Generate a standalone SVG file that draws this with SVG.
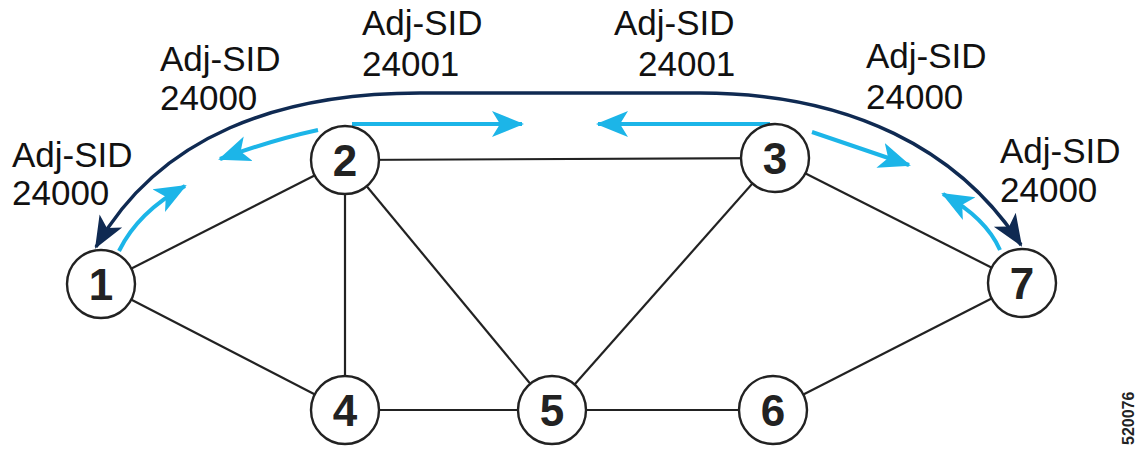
<svg xmlns="http://www.w3.org/2000/svg" width="1139" height="451" viewBox="0 0 1139 451">
<defs>
<style>
.edge{stroke:#222;stroke-width:2.2;fill:none}
.node circle{fill:#fff;stroke:#222;stroke-width:2.4}
.node text{font-family:"Liberation Sans",Arial,sans-serif;font-weight:bold;font-size:44px;fill:#222;text-anchor:middle}
.lbl{font-family:"Liberation Sans",Arial,sans-serif;font-size:35px;fill:#111}
.dark{stroke:#0f2a52;stroke-width:3.5;fill:none}
.blue{stroke:#1cb5e8;stroke-width:4;fill:none}
</style>
<marker id="ad" markerUnits="userSpaceOnUse" markerWidth="34" markerHeight="34" viewBox="0 0 34 34" refX="30" refY="17" orient="auto-start-reverse">
<path d="M0,4 L32,17 L0,30 L8,17 Z" fill="#0f2a52"/>
</marker>
<marker id="ab" markerUnits="userSpaceOnUse" markerWidth="34" markerHeight="34" viewBox="0 0 34 34" refX="30" refY="17" orient="auto">
<path d="M0,4 L32,17 L0,30 L8,17 Z" fill="#1cb5e8"/>
</marker>
</defs>
<g id="connectors">
<line class="edge" x1="101" y1="284" x2="345" y2="160"/>
<line class="edge" x1="101" y1="284" x2="345" y2="410"/>
<line class="edge" x1="345" y1="160" x2="775" y2="158"/>
<line class="edge" x1="345" y1="160" x2="345" y2="410"/>
<line class="edge" x1="345" y1="160" x2="552" y2="410"/>
<line class="edge" x1="775" y1="158" x2="552" y2="410"/>
<line class="edge" x1="775" y1="158" x2="1022" y2="283"/>
<line class="edge" x1="345" y1="410" x2="773" y2="410"/>
<line class="edge" x1="773" y1="410" x2="1022" y2="283"/>
<path class="dark" d="M96,247 C160,135 280,93 420,93 L700,93 C850,93 960,150 1021,245" marker-start="url(#ad)" marker-end="url(#ad)"/>
<path class="blue" d="M119,251 Q138,212 185,186" marker-end="url(#ab)"/>
<path class="blue" d="M318,130 Q272,140 220,159" marker-end="url(#ab)"/>
<path class="blue" d="M352,124 L522,124" marker-end="url(#ab)"/>
<path class="blue" d="M770,124 L598,124" marker-end="url(#ab)"/>
<path class="blue" d="M812,132 L909,165" marker-end="url(#ab)"/>
<path class="blue" d="M1000,250 Q986,218 943,194" marker-end="url(#ab)"/>
</g>
<g id="n1" class="node"><circle cx="101" cy="284" r="34"/><text x="101" y="300">1</text></g>
<g id="n2" class="node"><circle cx="345" cy="160" r="34"/><text x="345" y="176">2</text></g>
<g id="n3" class="node"><circle cx="775" cy="158" r="34"/><text x="775" y="174">3</text></g>
<g id="n4" class="node"><circle cx="345" cy="410" r="34"/><text x="345" y="426">4</text></g>
<g id="n5" class="node"><circle cx="552" cy="410" r="34"/><text x="552" y="426">5</text></g>
<g id="n6" class="node"><circle cx="773" cy="410" r="34"/><text x="773" y="426">6</text></g>
<g id="n7" class="node"><circle cx="1022" cy="283" r="34"/><text x="1022" y="299">7</text></g>
<g id="labels">
<text class="lbl" x="12" y="167">Adj-SID</text><text class="lbl" x="12" y="205">24000</text>
<text class="lbl" x="160" y="71">Adj-SID</text><text class="lbl" x="160" y="110">24000</text>
<text class="lbl" x="362" y="35">Adj-SID</text><text class="lbl" x="362" y="76">24001</text>
<text class="lbl" x="614" y="35">Adj-SID</text><text class="lbl" x="638" y="76">24001</text>
<text class="lbl" x="866" y="68">Adj-SID</text><text class="lbl" x="866" y="109">24000</text>
<text class="lbl" x="1000" y="163">Adj-SID</text><text class="lbl" x="1000" y="202">24000</text>
<text x="1134" y="445" transform="rotate(-90 1134 445)" style="font-family:'Liberation Sans',Arial,sans-serif;font-size:16px;font-weight:bold;fill:#222">520076</text>
</g>
</svg>
